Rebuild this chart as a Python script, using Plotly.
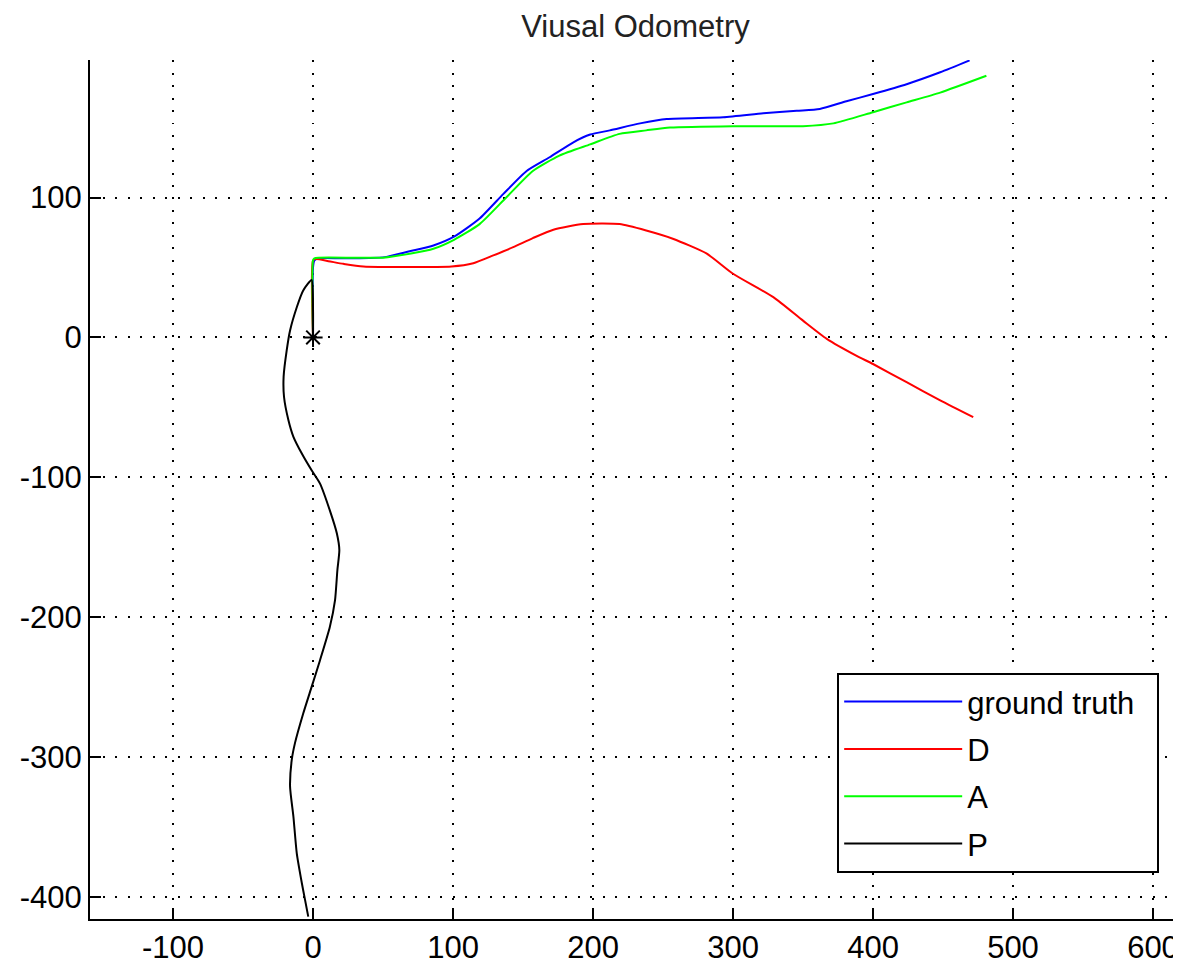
import plotly.graph_objects as go

# Ground truth trajectory
gt_x = [0, 0, 1, 4.3, 20, 40, 51.4, 69, 86, 100.7, 119, 136, 152.6, 169, 186, 198, 212,
        233.6, 252.6, 293, 321.6, 345.5, 362, 381, 400, 424, 448, 469]
gt_y = [0, 50, 55, 56.6, 56.6, 56.8, 57.4, 61.6, 65.7, 72, 85, 102.6, 119, 128.8, 139.5, 145, 148,
        153, 156.2, 157.4, 160.2, 162, 163.3, 168.8, 174, 181, 189.5, 198]

# D trajectory
d_x = [0, 0, 2, 11, 21.7, 36, 99, 114.5, 128.8, 143, 157, 171.7, 193, 219, 238, 257, 281,
       300, 328.8, 350, 367, 388, 400, 424, 448, 471.6]
d_y = [0, 55, 56, 54.5, 52.6, 50.7, 50.7, 53, 58.6, 64.5, 71, 77, 81, 81, 76.4, 70.5, 60,
       45.5, 28.8, 12, -1, -13, -19, -32, -45, -57]

# A trajectory
a_x = [0, 0, 1, 4, 30, 50, 70, 86, 100.7, 119, 138, 157, 176, 198, 219, 238, 255, 300, 350,
       371.7, 400, 424, 448, 481]
a_y = [0, 55, 56.5, 57, 57, 57, 60, 63.4, 69.8, 81, 100, 119, 130, 138, 145.5, 148, 150, 151, 151,
       153, 161, 168, 175, 187]

# P trajectory
p_x = [0, 0, -1, -7, -11.6, -16.4, -18.8, -21, -20.7, -17.6, -14, -8, -1, 5, 12, 17, 18.8,
       17.4, 15.7, 12, 5, -1, -7, -12.9, -15.2, -16.4, -14, -11.6, -8, -5.7, -3.4]
p_y = [0, 20, 41, 33.6, 21.6, 5, -9.3, -28, -42.6, -59, -71, -83, -95, -104.5, -123.6, -140, -152,
       -166.4, -188, -207, -230.7, -249.8, -268.8, -290, -302, -321, -342.6, -368.8, -390, -402, -414]

start_x = [0]
start_y = [0]

x_ticks = [-100, 0, 100, 200, 300, 400, 500, 600]
x_labels = ["-100", "0", "100", "200", "300", "400", "500", "600"]
y_ticks = [-400, -300, -200, -100, 0, 100]
y_labels = ["-400", "-300", "-200", "-100", "0", "100"]

FONT = "Liberation Sans, Arial, sans-serif"
PAD = "\u00a0\u00a0"  # keeps the legend box as wide as the original

fig = go.Figure()
series = [
    ("ground truth", gt_x, gt_y, "#0000FF"),
    ("D", d_x, d_y, "#FF0000"),
    ("A", a_x, a_y, "#00FF00"),
    ("P", p_x, p_y, "#000000"),
]
for name, xs, ys, col in series:
    label = name + PAD if name == "ground truth" else name
    fig.add_trace(go.Scatter(x=xs, y=ys, mode="lines", name=label, legendgroup=name,
                             line=dict(color=col, width=2, shape="spline", smoothing=0.6)))

fig.add_trace(go.Scatter(x=start_x, y=start_y, mode="markers", showlegend=False,
                         marker=dict(symbol="asterisk-open", size=16,
                                     line=dict(color="black", width=2), color="black")))

axis_common = dict(
    showline=True, linecolor="black", linewidth=2, mirror=False,
    ticks="inside", ticklen=11, tickwidth=2, tickcolor="black",
    showgrid=True, gridcolor="black", gridwidth=2, griddash="2px,10.5px",
    zeroline=False, tickfont=dict(family=FONT, size=31, color="black"),
    automargin=False,
)

fig.update_layout(
    width=1173, height=956,
    margin=dict(l=82, r=0, t=52, b=45),
    paper_bgcolor="white", plot_bgcolor="white",
    title=dict(text="Viusal Odometry", x=0.5, xref="paper", y=1 - 7 / 956, yref="container",
               yanchor="top", xanchor="center", pad=dict(t=0),
               font=dict(family=FONT, size=31, color="#222222")),
    xaxis=dict(range=[-159.3, 620], tickvals=x_ticks, ticktext=x_labels, **axis_common),
    yaxis=dict(range=[-415.7, 198.3], tickvals=y_ticks, ticktext=y_labels, **axis_common),
    legend=dict(x=0.98, xanchor="right", y=0.0536, yanchor="bottom",
                bgcolor="white", bordercolor="black", borderwidth=2,
                font=dict(family=FONT, size=31, color="black"),
                itemwidth=118, traceorder="grouped", tracegroupgap=4),
    showlegend=True,
)

fig.write_html("out.html")
